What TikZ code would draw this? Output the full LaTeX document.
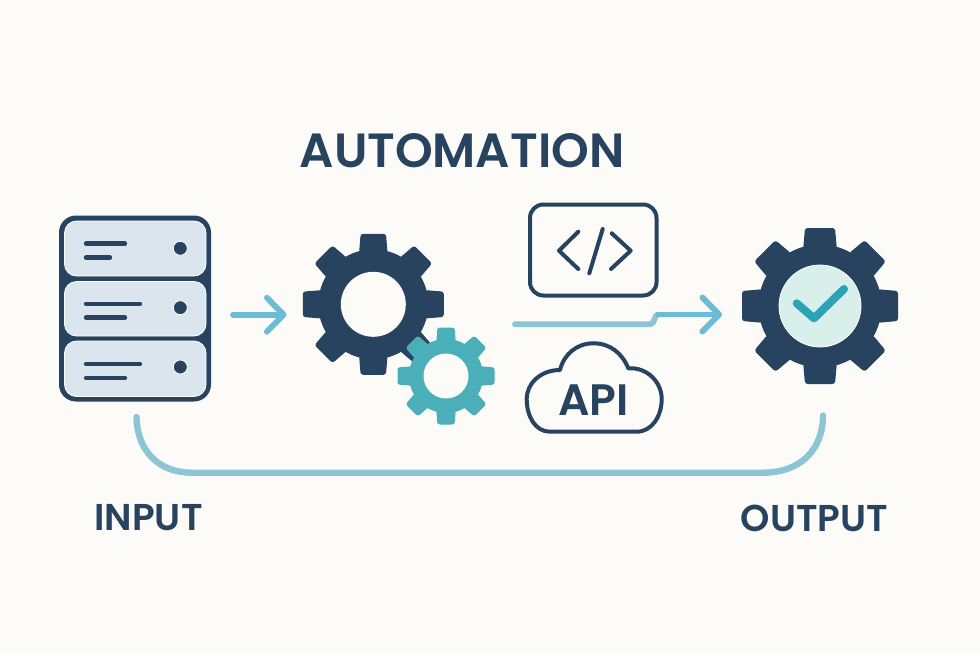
\documentclass[tikz,border=0pt]{standalone}
\usepackage{fontspec}
\setmainfont{Poppins}
\newfontfamily\heavyface{Poppins SemiBold}
\usetikzlibrary{arrows.meta}
\definecolor{bgc}{HTML}{FDFBF8}
\definecolor{navy}{HTML}{27435F}
\definecolor{panel}{HTML}{DAE5EE}
\definecolor{teal}{HTML}{4AAFB8}
\definecolor{flow}{HTML}{6ABDD4}
\definecolor{paleflow}{HTML}{8CC6D6}
\definecolor{mint}{HTML}{D8EFEC}
\definecolor{tick}{HTML}{2AA3B5}
\tikzset{
  x=0.75pt,y=-0.75pt,
  rack/.style={draw=navy,fill=navy,line width=1.5pt,rounded corners=12pt},
  tray/.style={fill=panel,draw=white,line width=0.6pt,rounded corners=9pt},
  slot/.style={draw=navy,line width=3.2pt,line cap=round},
  lamp/.style={fill=navy,draw=white,line width=0.6pt},
  iconline/.style={draw=navy,line width=3pt,line cap=round,line join=round},
  flowline/.style={draw=flow,line width=4.4pt,line cap=round,line join=round},
  paleline/.style={draw=paleflow,line width=4.8pt,line cap=round,line join=round},
  barb/.style={-{Straight Barb[round,length=12.5pt,width=25.5pt]}},
  title/.style={text=navy,inner sep=0pt},
}
% cx cy body tip halfwidth hole colour name
\newcommand{\cog}[8]{%
  \fill[#7] (#1,#2) circle[radius=#3];
  \foreach \a in {0,45,...,315}{
    \fill[#7,rounded corners=2pt,rotate around={\a:(#1,#2)}]
      ({#1-#5*1.12},{#2-#3+4}) -- ({#1-#5},{#2-#4}) -- ({#1+#5},{#2-#4}) -- ({#1+#5*1.12},{#2-#3+4}) -- cycle;
  }
  \coordinate (#8) at (#1,#2);
}
\begin{document}
\begin{tikzpicture}
\useasboundingbox[fill=bgc] (0,0) rectangle (980,653);
% server
\draw[rack] (60,216.5) rectangle (210,400.5);
\fill[tray] (64.5,221) rectangle (206,276);
\fill[tray] (64.5,281.5) rectangle (206,336);
\fill[tray] (64.5,341) rectangle (206,396.5);
\draw[slot] (86,243.5) -- (125,243.5);
\draw[slot] (86,257.5) -- (110,257.5);
\draw[slot] (86,303.7) -- (140,303.7);
\draw[slot] (86,317.5) -- (125,317.5);
\draw[slot] (86,363.7) -- (140,363.7);
\draw[slot] (86,377.7) -- (125,377.7);
\draw[lamp] (180.3,248.3) circle[radius=7];
\draw[lamp] (180.3,307.7) circle[radius=7];
\draw[lamp] (180.3,367) circle[radius=7];
% connectors
\coordinate (inS) at (233,314.7);
\coordinate (inE) at (286.5,314.7);
\draw[flowline,barb] (inS) -- (inE);
% gears
\cog{373.3}{304.3}{55}{70.5}{12.7}{32}{navy}{gearA}
\fill[bgc] (gearA) circle[radius=32.5];
\cog{446}{376}{37}{48.5}{8.7}{22.5}{teal}{gearB}
\fill[bgc] (gearB) circle[radius=22.5];
% code box
\draw[iconline,rounded corners=10pt] (530,204.5) rectangle (656.5,295.5);
\draw[iconline] (578.3,231.7) -- (559,250.7) -- (578.3,269);
\draw[iconline] (602.7,229) -- (589.3,273.3);
\draw[iconline] (611.7,233.3) -- (630.7,250.7) -- (611,269);
% middle arrow
\coordinate (mS) at (515,324.3);
\coordinate (mA) at (650,324.3);
\coordinate (mB) at (658,314.5);
\coordinate (mE) at (722,314.5);
\draw[paleline,line width=4.4pt] (mS) -- (mA) .. controls (655,324.3) and (654,314.5) .. (mB);
\draw[flowline,barb] (mB) -- (mE);
% cloud
\draw[iconline] (550,431.7) -- (636.7,431.7)
  .. controls (652,431.7) and (661.7,416) .. (661.7,399)
  .. controls (661.7,382) and (647,367) .. (628.3,368.3)
  .. controls (622,353) and (610,343.3) .. (593.3,343.3)
  .. controls (577,343.3) and (564,354) .. (560,370)
  .. controls (541,370) and (526.7,383) .. (526.7,399)
  .. controls (526.7,416) and (535,431.7) .. (550,431.7) -- cycle;
\node[title,font=\fontsize{33}{33}\selectfont\heavyface] (api) at (593.3,400) {API};
% output gear
\cog{820}{306}{61.5}{78}{15}{41}{navy}{gearC}
\draw[fill=mint,draw=white,line width=0.6pt] (gearC) circle[radius=41];
\draw[draw=tick,line width=6pt,line cap=round,line join=round] (796.7,303.3) -- (814,318.3) -- (844,289);
% bottom loop
\coordinate (lS) at (136.5,417);
\coordinate (lE) at (823,415.5);
\draw[paleline] (lS) .. controls (137,450) and (158,472.7) .. (192,472.7) -- (763,472.7) .. controls (800,472.7) and (823,450) .. (lE);
% labels
\node[title,font=\fontsize{36}{36}\selectfont\heavyface] (auto) at (462,150.5) {AUTOMATION};
\node[title,font=\fontsize{28}{28}\selectfont\heavyface] (input) at (148.5,518) {INPUT};
\node[title,font=\fontsize{28}{28}\selectfont\heavyface] (output) at (814.5,518) {OUTPUT};
\end{tikzpicture}
\end{document}
